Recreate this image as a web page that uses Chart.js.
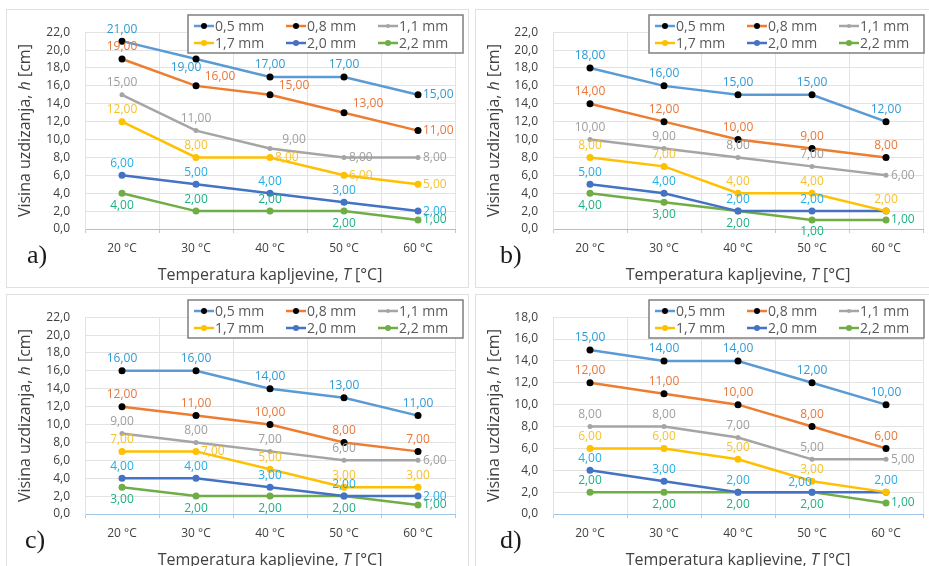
<!DOCTYPE html>
<html>
<head>
<meta charset="utf-8">
<script src="https://cdn.jsdelivr.net/npm/chart.js@4.4.1/dist/chart.umd.min.js"></script>
<style>
  body { margin: 0; background: #fff; width: 929px; height: 566px; overflow: hidden; position: relative; }
  .panel { position: absolute; background: #fff; box-shadow: 0 0 0 1px #e0e0e0; }
  canvas { display: block; }
</style>
</head>
<body>
<div class="panel" style="left:7px;top:10px;width:461px;height:277px"><canvas id="ca" width="461" height="277"></canvas></div>
<div class="panel" style="left:476px;top:10px;width:453px;height:277px"><canvas id="cb" width="453" height="277"></canvas></div>
<div class="panel" style="left:7px;top:295px;width:461px;height:271px"><canvas id="cc" width="461" height="271"></canvas></div>
<div class="panel" style="left:476px;top:295px;width:453px;height:271px"><canvas id="cd" width="453" height="271"></canvas></div>
<script>
const categories = ["20 °C", "30 °C", "40 °C", "50 °C", "60 °C"];
const seriesNames = ["0,5 mm", "0,8 mm", "1,1 mm", "1,7 mm", "2,0 mm", "2,2 mm"];

// visina uzdizanja h [cm], one row per series (0,5 ... 2,2 mm)
const heightA = [[21, 19, 17, 17, 15], [19, 16, 15, 13, 11], [15, 11, 9, 8, 8], [12, 8, 8, 6, 5], [6, 5, 4, 3, 2], [4, 2, 2, 2, 1]];
const heightB = [[18, 16, 15, 15, 12], [14, 12, 10, 9, 8], [10, 9, 8, 7, 6], [8, 7, 4, 4, 2], [5, 4, 2, 2, 2], [4, 3, 2, 1, 1]];
const heightC = [[16, 16, 14, 13, 11], [12, 11, 10, 8, 7], [9, 8, 7, 6, 6], [7, 7, 5, 3, 3], [4, 4, 3, 2, 2], [3, 2, 2, 2, 1]];
const heightD = [[15, 14, 14, 12, 10], [12, 11, 10, 8, 6], [8, 8, 7, 5, 5], [6, 6, 5, 3, 2], [4, 3, 2, 2, 2], [2, 2, 2, 2, 1]];

const yMaxABC = 22;
const yMaxD = 18;
const yStep = 2;

// label placement per point: a above, b below, r right, q above-right, l below-left, w above-left, n none
const posA = ["alaar", "aqqqr", "aaqrr", "aarrr", "aaaar", "baabr"];
const posB = ["aaaaa", "aaaaa", "aaaar", "aaaaa", "aaaan", "bbbbr"];
const posC = ["aaaaa", "aaaaa", "aaaar", "araaa", "aaaar", "bbbbr"];
const posD = ["aaaaa", "aaaaa", "aaaar", "aaaan", "aaawa", "abbbr"];

const lineColors = ["#5B9BD5", "#ED7D31", "#A5A5A5", "#FFC000", "#4472C4", "#70AD47"];
const markerColors = ["#000000", "#000000", "#A5A5A5", "#FFC000", "#4472C4", "#70AD47"];
const markerSizes = [3.5, 3.5, 2.5, 3.5, 3.5, 3.5];
const labelColors = ["#2E9BD6", "#E8773A", "#9E9E9E", "#F5C232", "#22AEE6", "#1DB084"];

const FONT = '"Open Sans", "Noto Sans", sans-serif';
const comma = (v, d) => v.toFixed(d).replace(".", ",");

const valueLabels = {
  id: "valueLabels",
  afterDatasetsDraw(chart, args, opts) {
    const ctx = chart.ctx;
    ctx.save();
    ctx.font = "12px " + FONT;
    chart.data.datasets.forEach((ds, i) => {
      const meta = chart.getDatasetMeta(i);
      meta.data.forEach((pt, j) => {
        const code = opts.pos[i][j];
        if (code === "n") return;
        let x = pt.x, y = pt.y, align = "center";
        if (code === "a") y -= 12;
        else if (code === "b") y += 12;
        else if (code === "r") { x += 5; align = "left"; }
        else if (code === "q") { x += 24; y -= 9; }
        else if (code === "l") { x -= 10; y += 9; }
        else if (code === "w") { x -= 12; y -= 10; }
        ctx.fillStyle = labelColors[i];
        ctx.textAlign = align;
        ctx.textBaseline = "middle";
        ctx.fillText(comma(ds.data[j], 2), x, y);
      });
    });
    ctx.restore();
  },
};

const boxLegend = {
  id: "boxLegend",
  afterDraw(chart) {
    const ctx = chart.ctx;
    const bw = 275, bh = 38;
    const bx = chart.width - 5 - bw, by = 5;
    ctx.save();
    ctx.fillStyle = "#fff";
    ctx.fillRect(bx, by, bw, bh);
    ctx.strokeStyle = "#7f7f7f";
    ctx.lineWidth = 1.5;
    ctx.strokeRect(bx, by, bw, bh);
    ctx.font = "14px " + FONT;
    ctx.textBaseline = "middle";
    ctx.textAlign = "left";
    chart.data.datasets.forEach((ds, i) => {
      const x = bx + 6 + (i % 3) * 92;
      const y = by + 11 + Math.floor(i / 3) * 17;
      ctx.strokeStyle = ds.borderColor;
      ctx.lineWidth = 2.5;
      ctx.beginPath();
      ctx.moveTo(x, y);
      ctx.lineTo(x + 20, y);
      ctx.stroke();
      ctx.fillStyle = ds.pointBackgroundColor;
      ctx.beginPath();
      ctx.arc(x + 10, y, ds.pointRadius - 0.5, 0, Math.PI * 2);
      ctx.fill();
      ctx.fillStyle = "#595959";
      ctx.fillText(ds.label, x + 21, y + 1);
    });
    ctx.restore();
  },
};

// draws a run of text parts, some italic, centred on (cx, cy)
function drawMixed(ctx, parts, cx, cy) {
  let total = 0;
  parts.forEach((p) => {
    ctx.font = (p[1] ? "italic " : "") + "16px " + FONT;
    total += ctx.measureText(p[0]).width;
  });
  let x = cx - total / 2;
  parts.forEach((p) => {
    ctx.font = (p[1] ? "italic " : "") + "16px " + FONT;
    ctx.fillText(p[0], x, cy);
    x += ctx.measureText(p[0]).width;
  });
}

const titles = {
  id: "titles",
  afterDraw(chart, args, opts) {
    const ctx = chart.ctx;
    const a = chart.chartArea;
    ctx.save();
    ctx.fillStyle = "#404040";
    ctx.textAlign = "left";
    ctx.textBaseline = "middle";
    drawMixed(ctx, [["Temperatura kapljevine, ", false], ["T", true], [" [°C]", false]], (a.left + a.right) / 2, a.bottom + 46);
    ctx.translate(18, (a.top + a.bottom) / 2);
    ctx.rotate(-Math.PI / 2);
    drawMixed(ctx, [["Visina uzdizanja, ", false], ["h", true], [" [cm]", false]], 0, 0);
    ctx.restore();
    ctx.save();
    ctx.fillStyle = "#1a1a1a";
    ctx.font = "26px 'Liberation Serif', 'DejaVu Serif', serif";
    ctx.textBaseline = "middle";
    ctx.fillText(opts.tag, opts.tagX, a.bottom + 27);
    ctx.restore();
  },
};

function makeChart(id, values, yMax, pos, tag, tagX, plot) {
  const canvas = document.getElementById(id);
  const w = canvas.width, h = canvas.height;
  const datasets = values.map((vals, i) => ({
    label: seriesNames[i],
    data: vals,
    borderColor: lineColors[i],
    backgroundColor: lineColors[i],
    pointBackgroundColor: markerColors[i],
    pointBorderColor: markerColors[i],
    pointRadius: markerSizes[i],
    pointBorderWidth: 0,
    borderWidth: 2.5,
    tension: 0,
  }));
  new Chart(canvas, {
    type: "line",
    data: { labels: categories, datasets: datasets },
    options: {
      responsive: false,
      animation: false,
      layout: { padding: { top: plot.t, right: w - plot.r, left: 0, bottom: 0 } },
      plugins: {
        legend: { display: false },
        tooltip: { enabled: false },
        valueLabels: { pos: pos },
        titles: { tag: tag, tagX: tagX },
      },
      scales: {
        x: {
          offset: true,
          afterFit: (s) => { s.height = h - plot.b; },
          grid: { offset: true, color: "#e3e3e3", tickLength: 4, tickColor: "#c8c8c8" },
          border: { color: "#9DC3E6", width: 1 },
          ticks: { color: "#404040", font: { family: FONT, size: 12 }, padding: 8 },
        },
        y: {
          min: 0,
          max: yMax,
          afterFit: (s) => { s.width = plot.l; },
          grid: { color: "#e3e3e3", drawTicks: false },
          border: { color: "#e3e3e3" },
          ticks: {
            stepSize: yStep,
            padding: 15,
            color: "#404040",
            font: { family: FONT, size: 12 },
            callback: (v) => comma(v, 1),
          },
        },
      },
    },
    plugins: [valueLabels, titles, boxLegend],
  });
}

makeChart("ca", heightA, yMaxABC, posA, "a)", 20, { l: 78, r: 448, t: 19, b: 219 });
makeChart("cb", heightB, yMaxABC, posB, "b)", 24, { l: 77, r: 447, t: 19, b: 219 });
makeChart("cc", heightC, yMaxABC, posC, "c)", 18, { l: 78, r: 448, t: 19, b: 219 });
makeChart("cd", heightD, yMaxD, posD, "d)", 24, { l: 77, r: 447, t: 22, b: 219 });
</script>
</body>
</html>
